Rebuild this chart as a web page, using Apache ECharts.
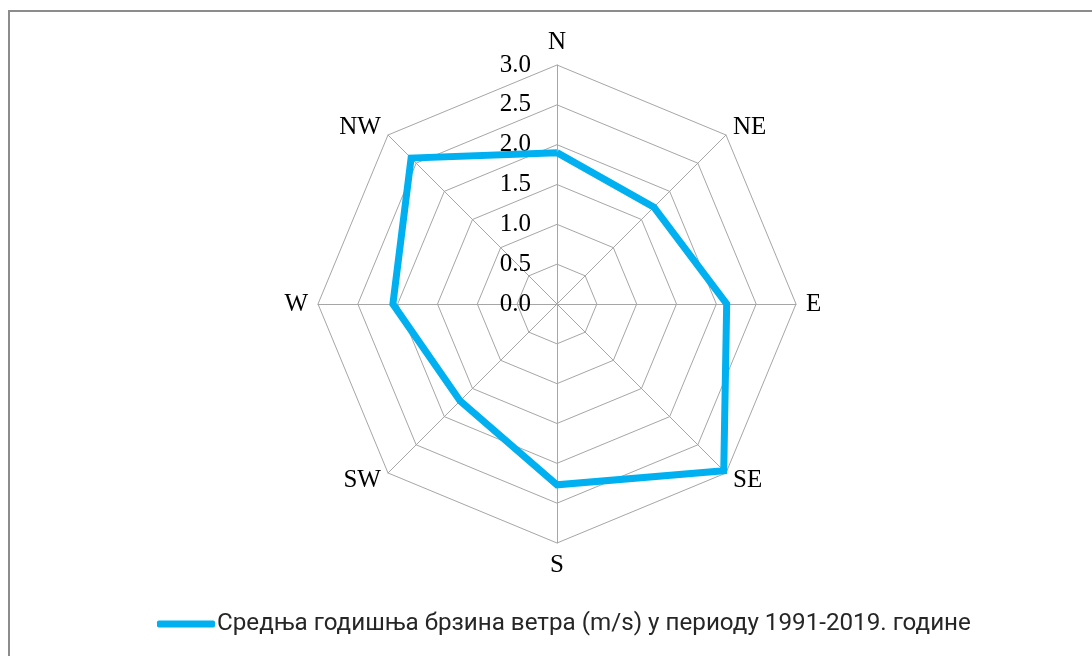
<!DOCTYPE html>
<html><head><meta charset="utf-8">
<script src="https://cdn.jsdelivr.net/npm/echarts@6/dist/echarts.min.js"></script>
<style>html,body{margin:0;padding:0;background:#fff}#c{width:1092px;height:656px}</style>
</head><body><div id="c"></div>
<script>
const directions = ['N','NE','E','SE','S','SW','W','NW'];
const windSpeed = [1.90, 1.72, 2.13, 2.96, 2.27, 1.72, 2.06, 2.59];
const seriesName = 'Средња годишња брзина ветра (m/s) у периоду 1991-2019. године';
const axisMax = 3;
const tickStep = 0.5;

// ECharts radar runs counter-clockwise; reorder so directions go clockwise (N, NE, E ... NW)
const order = [0,7,6,5,4,3,2,1];
const dirs = order.map(i=>directions[i]);
const vals = order.map(i=>windSpeed[i]);

const chart = echarts.init(document.getElementById('c'), null, {renderer:'canvas'});
const serif = '"Liberation Serif","Times New Roman",serif';
chart.setOption({
  animation:false,
  backgroundColor:'#fff',
  graphic:[{type:'rect',shape:{x:9,y:11,width:1200,height:800},style:{fill:'none',stroke:'#8c8c8c',lineWidth:2},silent:true,z:-1}],
  legend:{
    data:[seriesName], bottom:15, left:152,
    icon:'roundRect', itemWidth:58, itemHeight:7, itemGap:0,
    textStyle:{fontFamily:'Roboto,sans-serif', fontSize:24.2, color:'#262626', padding:[0,0,0,-3]}
  },
  radar:{
    center:[557,304], radius:239, startAngle:90, shape:'polygon', splitNumber:6,
    indicator: dirs.map(d=>({name:d, min:0, max:axisMax})),
    axisName:{color:'#000', fontFamily:serif, fontSize:25},
    nameGap:10,
    splitLine:{lineStyle:{color:'#a6a6a6', width:1}},
    axisLine:{lineStyle:{color:'#a6a6a6', width:1}},
    splitArea:{show:false},
    axisLabel:{show:false}
  },
  grid:{left:557, width:1, top:65, height:239},
  xAxis:{type:'value', show:false},
  yAxis:{type:'value', min:0, max:axisMax, interval:tickStep, position:'left',
    axisLine:{show:false}, axisTick:{show:false}, splitLine:{show:false},
    axisLabel:{margin:26, color:'#000', fontFamily:serif, fontSize:25, formatter:v=>v.toFixed(1)}},
  series:[{
    type:'radar', name:seriesName,
    symbol:'none',
    lineStyle:{color:'#00b0f0', width:7, join:'miter'},
    itemStyle:{color:'#00b0f0'},
    data:[{value:vals, name:seriesName}]
  }]
});
</script></body></html>
